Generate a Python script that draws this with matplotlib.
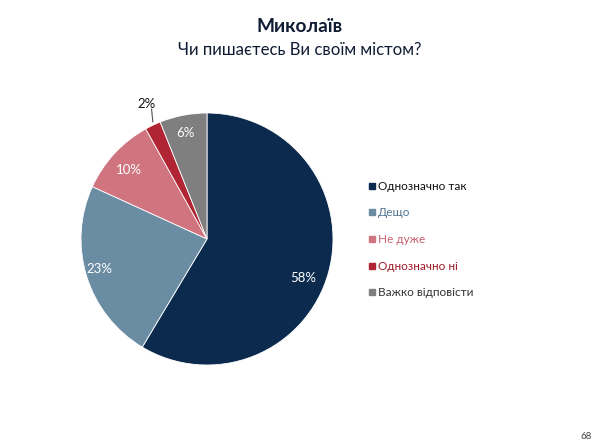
import matplotlib.pyplot as plt

# data
labels = ['Однозначно так', 'Дещо', 'Не дуже', 'Однозначно ні', 'Важко відповісти']
values = [58, 23, 10, 2, 6]
pct_labels = ['58%', '23%', '10%', '2%', '6%']
colors = ['#0c2a4e', '#6b8da3', '#d07480', '#b02433', '#7f7f80']
legend_text_colors = ['#111111', '#4f7390', '#c8606e', '#9e1a28', '#333333']

plt.rcParams['font.family'] = ['Lato', 'DejaVu Sans']

fig = plt.figure(figsize=(6, 4.48), dpi=100)
fig.patch.set_facecolor('white')

fig.text(0.5, 1 - 27 / 448, 'Миколаїв', ha='center', va='center',
         fontsize=13.8, fontweight='bold', color='#101c33')
fig.text(0.5, 1 - 50 / 448, 'Чи пишаєтесь Ви своїм містом?', ha='center',
         va='center', fontsize=12.1, color='#101c33')

# pie axes: center (207, 239), radius ~126 px
r = 126
ax = fig.add_axes([(207 - r) / 600, 1 - (239 + r) / 448, 2 * r / 600, 2 * r / 448])
wedges, _ = ax.pie(values, colors=colors, startangle=90, counterclock=False,
                   wedgeprops=dict(edgecolor='white', linewidth=0.6))
ax.set_aspect('equal')
ax.set_xlim(-1, 1)
ax.set_ylim(-1, 1)

# value labels (data coords within unit circle)
pos = {
    '58%': (0.76, -0.31),
    '23%': (-0.85, -0.24),
    '10%': (-0.62, 0.55),
    '6%': (-0.17, 0.84),
}
for lab, (x, y) in pos.items():
    ax.text(x, y, lab, ha='center', va='center', fontsize=9.5, color='white')

# 2% with leader line
ax.plot([-0.43, -0.44], [0.93, 1.03], color='#555555', lw=0.8, clip_on=False)
ax.text(-0.48, 1.02, '2%', ha='center', va='bottom', fontsize=9.5, color='#111111',
        clip_on=False)

# legend
ys = [186, 212, 239, 266, 292]
for lab, c, tc, y in zip(labels, colors, legend_text_colors, ys):
    yf = 1 - y / 448
    fig.patches.append(plt.Rectangle((369 / 600, yf - 3 / 448), 6 / 600, 6 / 448,
                                     transform=fig.transFigure, color=c))
    fig.text(378 / 600, yf, lab, ha='left', va='center', fontsize=8.5, color=tc)

fig.text(586 / 600, 1 - 436 / 448, '68', ha='center', va='center',
         fontsize=7, color='#444444')

fig.savefig('out.png', dpi=100)
